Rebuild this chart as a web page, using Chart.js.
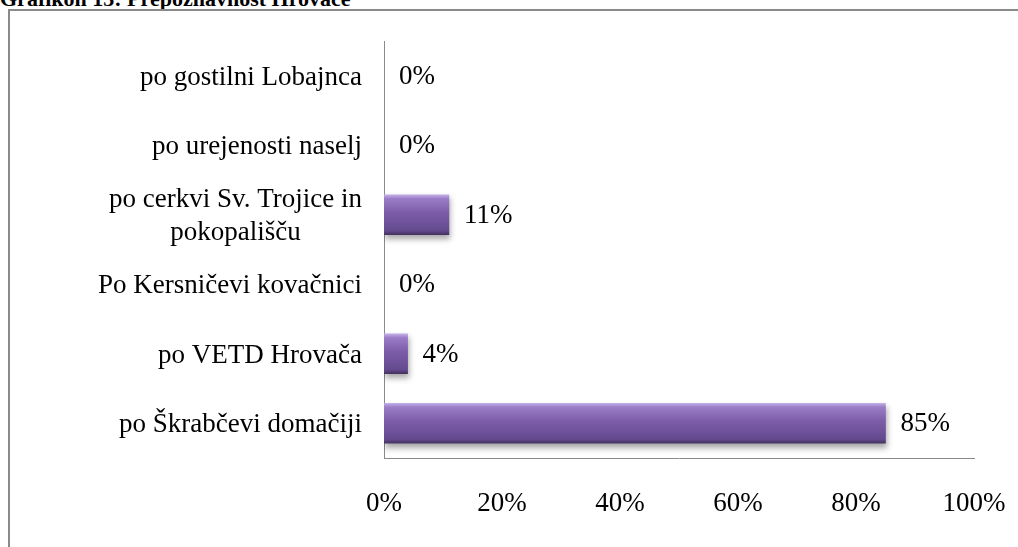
<!DOCTYPE html>
<html>
<head>
<meta charset="utf-8">
<script src="https://cdn.jsdelivr.net/npm/chart.js@4.4.0/dist/chart.umd.min.js"></script>
<style>
  html, body { margin:0; padding:0; background:#fff; overflow:hidden; }
  body { width:1018px; height:547px; position:relative; font-family:"Liberation Serif","Times New Roman",serif; }
  #title { position:absolute; left:0; top:-14px; font-weight:bold; font-size:22px; color:#000; white-space:nowrap; }
  #frame { position:absolute; left:8px; top:9px; width:1100px; height:600px; border:2px solid #8a8a8a; }
  #wrap { position:absolute; left:0; top:0; width:1018px; height:547px; }
</style>
</head>
<body>
<div id="title">Grafikon 13: Prepoznavnost Hrovače</div>
<div id="frame"></div>
<div id="wrap"><canvas id="chart" width="1018" height="547"></canvas></div>
<script>
// categories and shares (percent), top to bottom as in the picture
const categories = [
    'po gostilni Lobajnca',
    'po urejenosti naselj',
    ['po cerkvi Sv. Trojice in', 'pokopališču'],
    'Po Kersničevi kovačnici',
    'po VETD Hrovača',
    'po Škrabčevi domačiji'
];
const shares = [0, 0, 11, 0, 4, 85];
const tickValues = [0, 20, 40, 60, 80, 100];

const FONT = '"Liberation Serif", "Times New Roman", serif';
const FSIZE = 27;
const BAR_H = 40;

function barFill(c){
    const chart = c.chart;
    if (c.dataIndex !== undefined && shares[c.dataIndex] === 0) return 'rgba(0,0,0,0)';
    const y = chart.scales && chart.scales.y;
    if (!y || c.dataIndex === undefined) return '#7a5aa5';
    const cy = y.getPixelForValue(c.dataIndex);
    if (!isFinite(cy)) return '#7a5aa5';
    const g = chart.ctx.createLinearGradient(0, cy - BAR_H/2, 0, cy + BAR_H/2);
    g.addColorStop(0, '#c3aee6');
    g.addColorStop(0.1, '#9a7cc7');
    g.addColorStop(0.45, '#7c5ca9');
    g.addColorStop(0.9, '#634a8e');
    g.addColorStop(1, '#45325f');
    return g;
}

// soft shadow under the bars
const barShadow = {
    id:'barShadow',
    beforeDatasetsDraw(chart){
        const ctx = chart.ctx;
        ctx.save();
        ctx.shadowColor = 'rgba(0,0,0,0.35)';
        ctx.shadowBlur = 6;
        ctx.shadowOffsetY = 4;
        ctx.shadowOffsetX = 1;
    },
    afterDatasetsDraw(chart){ chart.ctx.restore(); }
};

// category labels: block right-aligned, lines centred inside the block
const catLabels = {
    id:'catLabels',
    afterDraw(chart){
        const ctx = chart.ctx, y = chart.scales.y;
        const right = chart.chartArea.left - 22;
        ctx.save();
        ctx.font = FSIZE + 'px ' + FONT;
        ctx.fillStyle = '#000';
        ctx.textBaseline = 'middle';
        ctx.textAlign = 'center';
        const lh = 33;
        categories.forEach((lab, i) => {
            const lines = Array.isArray(lab) ? lab : [lab];
            const w = Math.max(...lines.map(l => ctx.measureText(l).width));
            const cy = y.getPixelForValue(i) + 2;
            const y0 = cy - (lines.length - 1) * lh / 2;
            lines.forEach((l, k) => ctx.fillText(l, right - w / 2, y0 + k * lh));
        });
        ctx.restore();
    }
};

// value labels at bar ends
const valueLabels = {
    id:'valueLabels',
    afterDraw(chart){
        const ctx = chart.ctx;
        const meta = chart.getDatasetMeta(0);
        ctx.save();
        ctx.font = FSIZE + 'px ' + FONT;
        ctx.fillStyle = '#000';
        ctx.textBaseline = 'middle';
        ctx.textAlign = 'left';
        meta.data.forEach((bar, i) => {
            ctx.fillText(shares[i] + '%', bar.x + 15, bar.y + 1);
        });
        ctx.restore();
    }
};

new Chart(document.getElementById('chart'), {
    type:'bar',
    data:{
        labels: categories,
        datasets:[{ data: shares, backgroundColor: barFill, borderWidth:0, barThickness: BAR_H }]
    },
    options:{
        indexAxis:'y',
        responsive:false,
        animation:false,
        layout:{ padding:{ top:41, right:44, bottom:0, left:0 } },
        plugins:{ legend:{ display:false }, tooltip:{ enabled:false } },
        scales:{
            x:{
                min:0, max:100,
                afterBuildTicks: s => { s.ticks = tickValues.map(v => ({ value:v })); },
                afterFit: s => { s.height = 89; s.paddingLeft = 0; s.paddingRight = 0; },
                grid:{ display:false, drawTicks:false },
                border:{ display:true, color:'#8a8a8a', width:1 },
                ticks:{ padding:30, color:'#000', font:{ family:FONT, size:FSIZE }, callback: v => v + '%' }
            },
            y:{
                afterFit: s => { s.width = 384; },
                grid:{ display:false, drawTicks:false },
                border:{ display:true, color:'#8a8a8a', width:1 },
                ticks:{ display:false }
            }
        }
    },
    plugins:[barShadow, catLabels, valueLabels]
});
</script>
</body>
</html>
